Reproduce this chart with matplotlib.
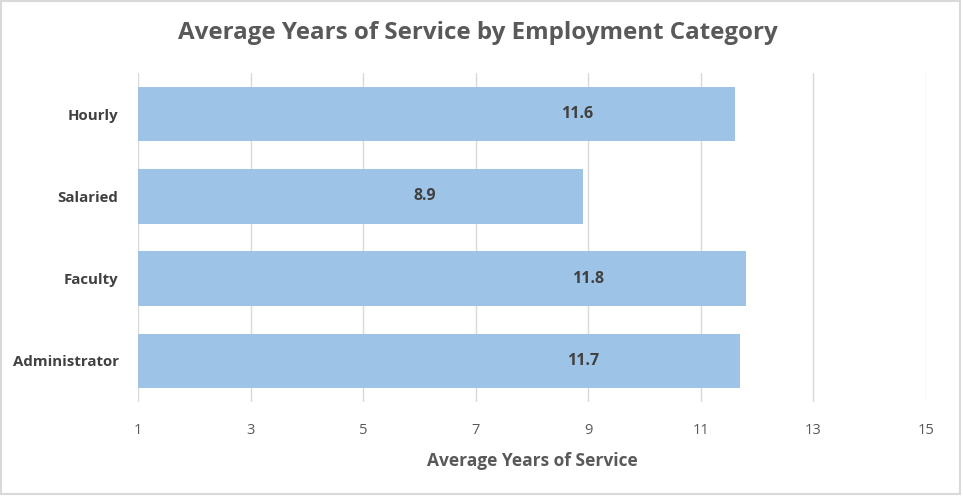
import matplotlib.pyplot as plt
from matplotlib.patches import Rectangle

plt.rcParams['font.family'] = ['Open Sans', 'DejaVu Sans']

categories = ["Hourly", "Salaried", "Faculty", "Administrator"]
avg_years = [11.6, 8.9, 11.8, 11.7]
x_ticks = [1, 3, 5, 7, 9, 11, 13, 15]

bar_color = "#9dc3e6"
grid_color = "#d9d9d9"
text_color = "#595959"
label_color = "#404040"

fig = plt.figure(figsize=(9.63, 4.96), dpi=100)
ax = fig.add_axes([0.1433, 0.1895, 0.8183, 0.6633])

ypos = list(range(len(categories)))
ax.barh(ypos, avg_years, height=0.66, color=bar_color, zorder=2)

# value labels, placed a fixed distance back from the bar end
for y, v in zip(ypos, avg_years):
    ax.text(v - 2.8, y, f"{v:.1f}", ha="center", va="center",
            fontsize=11.5, fontweight="bold", color=label_color, zorder=3)

ax.set_xlim(1, 15)
ax.set_ylim(3.5, -0.5)
ax.set_xticks(x_ticks)
ax.set_xticklabels([str(t) for t in x_ticks])
ax.set_yticks(ypos)
ax.set_yticklabels(categories, fontweight="bold", color=label_color)
ax.tick_params(axis="x", length=0, pad=15, labelsize=10.5, labelcolor=text_color)
ax.tick_params(axis="y", length=0, pad=14, labelsize=10.8)
ax.xaxis.grid(True, color=grid_color, linewidth=1, zorder=0)
ax.set_axisbelow(True)
for s in ax.spines.values():
    s.set_visible(False)

ax.set_xlabel("Average Years of Service", fontsize=12.5, fontweight="bold",
              color=text_color, labelpad=10)
fig.text(0.496, 0.933, "Average Years of Service by Employment Category",
         ha="center", va="center", fontsize=17.4, fontweight="bold", color=text_color)

fig.patches.append(Rectangle((0.001, 0.004), 0.996, 0.994, transform=fig.transFigure,
                             fill=False, edgecolor="#d9d9d9", linewidth=1.5))

fig.savefig("out.png", dpi=100, facecolor="white")
